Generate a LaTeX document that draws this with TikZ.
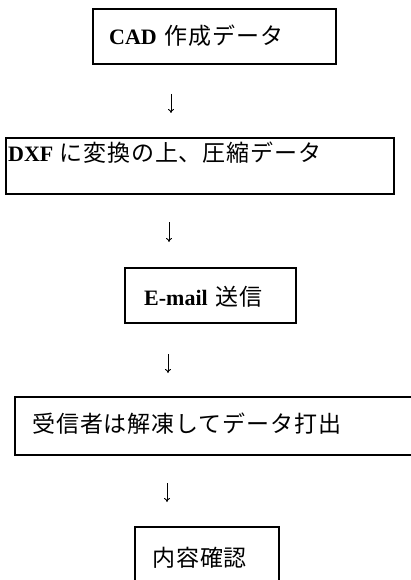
\documentclass[tikz,border=0pt]{standalone}
\usepackage{fontspec}
\usetikzlibrary{arrows.meta}
\setmainfont{Liberation Serif}
\newfontfamily\jpf[LetterSpace=4]{Noto Sans CJK JP}
\newfontfamily\latf{Liberation Serif}
\newcommand{\jp}[1]{{\jpf\fontsize{23pt}{26pt}\selectfont #1}}
\newcommand{\lt}[1]{{\latf\bfseries\fontsize{22pt}{26pt}\selectfont #1}}
\tikzset{
  boxnode/.style={draw=black, line width=1.2pt, rectangle, inner sep=0pt},
  txt/.style={anchor=base west, inner sep=0pt},
  flowarrow/.style={draw=black, line width=0.9pt, -{To[length=4pt,width=6pt]}}
}
\begin{document}
\begin{tikzpicture}[x=1pt,y=-1pt]
\useasboundingbox (0,0) rectangle (411,580);
\clip (0,0) rectangle (411,580);
% boxes
\node[boxnode, minimum width=243pt, minimum height=55pt] (b1) at (214.5,36.5) {};
\node[boxnode, minimum width=388pt, minimum height=56pt] (b2) at (200,166) {};
\node[boxnode, minimum width=171pt, minimum height=55pt] (b3) at (210.5,295.5) {};
\node[boxnode, minimum width=410pt, minimum height=58pt] (b4) at (220,426) {};
\node[boxnode, minimum width=144pt, minimum height=80pt] (b5) at (207,567) {};
% texts
\node[txt] (t1) at (109,45) {\lt{CAD}\hspace{8pt}\jp{作成データ}};
\node[txt] (t2) at (8,161) {\lt{DXF}\hspace{6pt}\jp{に変換の上、圧縮データ}};
\node[txt] (t3) at (144,305) {\lt{E-mail}\hspace{8pt}\jp{送信}};
\node[txt] (t4) at (32,432) {\jp{受信者は解凍してデータ打出}};
\node[txt] (t5) at (152,566) {\jp{内容確認}};
% arrows
\coordinate (a1s) at (171,94);
\coordinate (a1e) at (171,113);
\coordinate (a2s) at (169,222);
\coordinate (a2e) at (169,242);
\coordinate (a3s) at (168,354);
\coordinate (a3e) at (168,373);
\coordinate (a4s) at (167,483);
\coordinate (a4e) at (167,502);
\draw[flowarrow] (a1s) -- (a1e);
\draw[flowarrow] (a2s) -- (a2e);
\draw[flowarrow] (a3s) -- (a3e);
\draw[flowarrow] (a4s) -- (a4e);
\end{tikzpicture}
\end{document}
